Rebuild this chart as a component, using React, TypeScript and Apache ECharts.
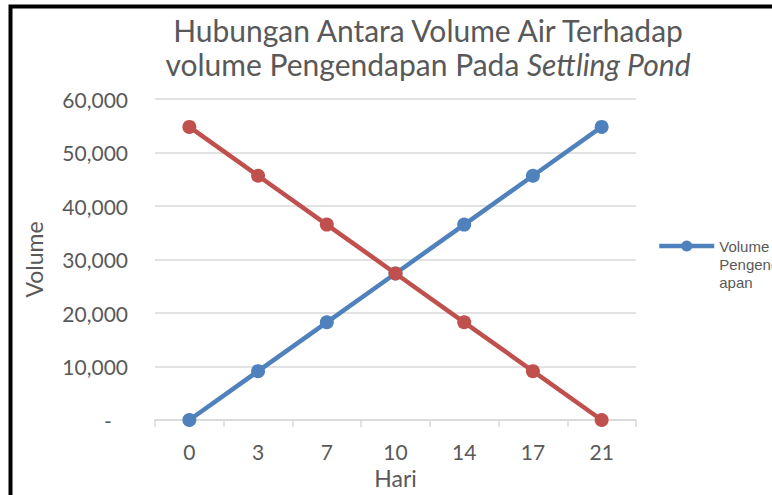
import React, { useEffect, useRef } from "react";
import * as echarts from "echarts";

const categories = ["0", "3", "7", "10", "14", "17", "21"];
const pengendapan = [0, 9130, 18260, 27390, 36520, 45650, 54780];
const air = [54780, 45650, 36520, 27390, 18260, 9130, 0];
const yTicks = { min: 0, max: 60000, interval: 10000 };

export default function App() {
  const ref = useRef<HTMLDivElement>(null);
  useEffect(() => {
    document.body.style.margin = "0";
    const chart = echarts.init(ref.current!, null, { renderer: "svg" });
    const font = "Lato, 'Liberation Sans', sans-serif";
    chart.setOption({
      animation: false,
      backgroundColor: "#ffffff",
      grid: { left: 155, right: 136, top: 99, bottom: 75 },
      graphic: [
        {
          type: "rect",
          shape: { x: 10.5, y: 6.5, width: 900, height: 700 },
          style: { fill: "none", stroke: "#000000", lineWidth: 4 },
          silent: true,
        },
        {
          type: "text",
          x: 428,
          y: 13,
          style: {
            text: "Hubungan Antara Volume Air Terhadap\nvolume Pengendapan Pada {i|Settling Pond}",
            align: "center",
            fontFamily: font,
            fontSize: 30,
            lineHeight: 34,
            fill: "#595959",
            rich: {
              i: { fontStyle: "italic", fontFamily: font, fontSize: 30, fill: "#595959", lineHeight: 34 },
            },
          },
        },
      ],
      legend: {
        data: ["Volume Pengendapan"],
        left: 657,
        top: 201,
        padding: 0,
        orient: "vertical",
        itemWidth: 55,
        itemHeight: 14,
        lineStyle: { width: 4.5 },
        formatter: () => "\n\nVolume\nPengend\napan",
        textStyle: { fontFamily: "'Liberation Sans', Arial, sans-serif", fontSize: 15, color: "#595959", lineHeight: 18 },
      },
      xAxis: {
        type: "category",
        data: categories,
        boundaryGap: true,
        name: "Hari",
        nameLocation: "middle",
        nameGap: 46,
        nameTextStyle: { fontFamily: font, fontSize: 23, color: "#595959" },
        axisLine: { lineStyle: { color: "#d9d9d9", width: 1.5 } },
        axisTick: { show: true, length: 7, lineStyle: { color: "#d9d9d9", width: 1.5 } },
        axisLabel: { fontFamily: font, fontSize: 21, color: "#595959", margin: 21 },
      },
      yAxis: {
        type: "value",
        min: yTicks.min,
        max: yTicks.max,
        interval: yTicks.interval,
        name: "Volume",
        nameLocation: "middle",
        nameGap: 110,
        nameTextStyle: { fontFamily: font, fontSize: 23, color: "#595959" },
        axisLine: { show: false },
        axisTick: { show: false },
        axisLabel: {
          fontFamily: font,
          fontSize: 21,
          color: "#595959",
          margin: 27,
          formatter: (v: number) => (v === 0 ? "-   " : v.toLocaleString("en-US")),
        },
        splitLine: { lineStyle: { color: "#d9d9d9", width: 1.5 } },
      },
      series: [
        {
          name: "Volume Pengendapan",
          type: "line",
          data: pengendapan,
          symbol: "circle",
          symbolSize: 14,
          itemStyle: { color: "#4F81BD" },
          lineStyle: { color: "#4F81BD", width: 4.5 },
          z: 3,
        },
        {
          name: "Volume Air",
          type: "line",
          data: air,
          symbol: "circle",
          symbolSize: 14,
          itemStyle: { color: "#C0504D" },
          lineStyle: { color: "#C0504D", width: 4.5 },
          z: 4,
        },
      ],
    });
    return () => chart.dispose();
  }, []);
  return <div ref={ref} style={{ width: 772, height: 495 }} />;
}
